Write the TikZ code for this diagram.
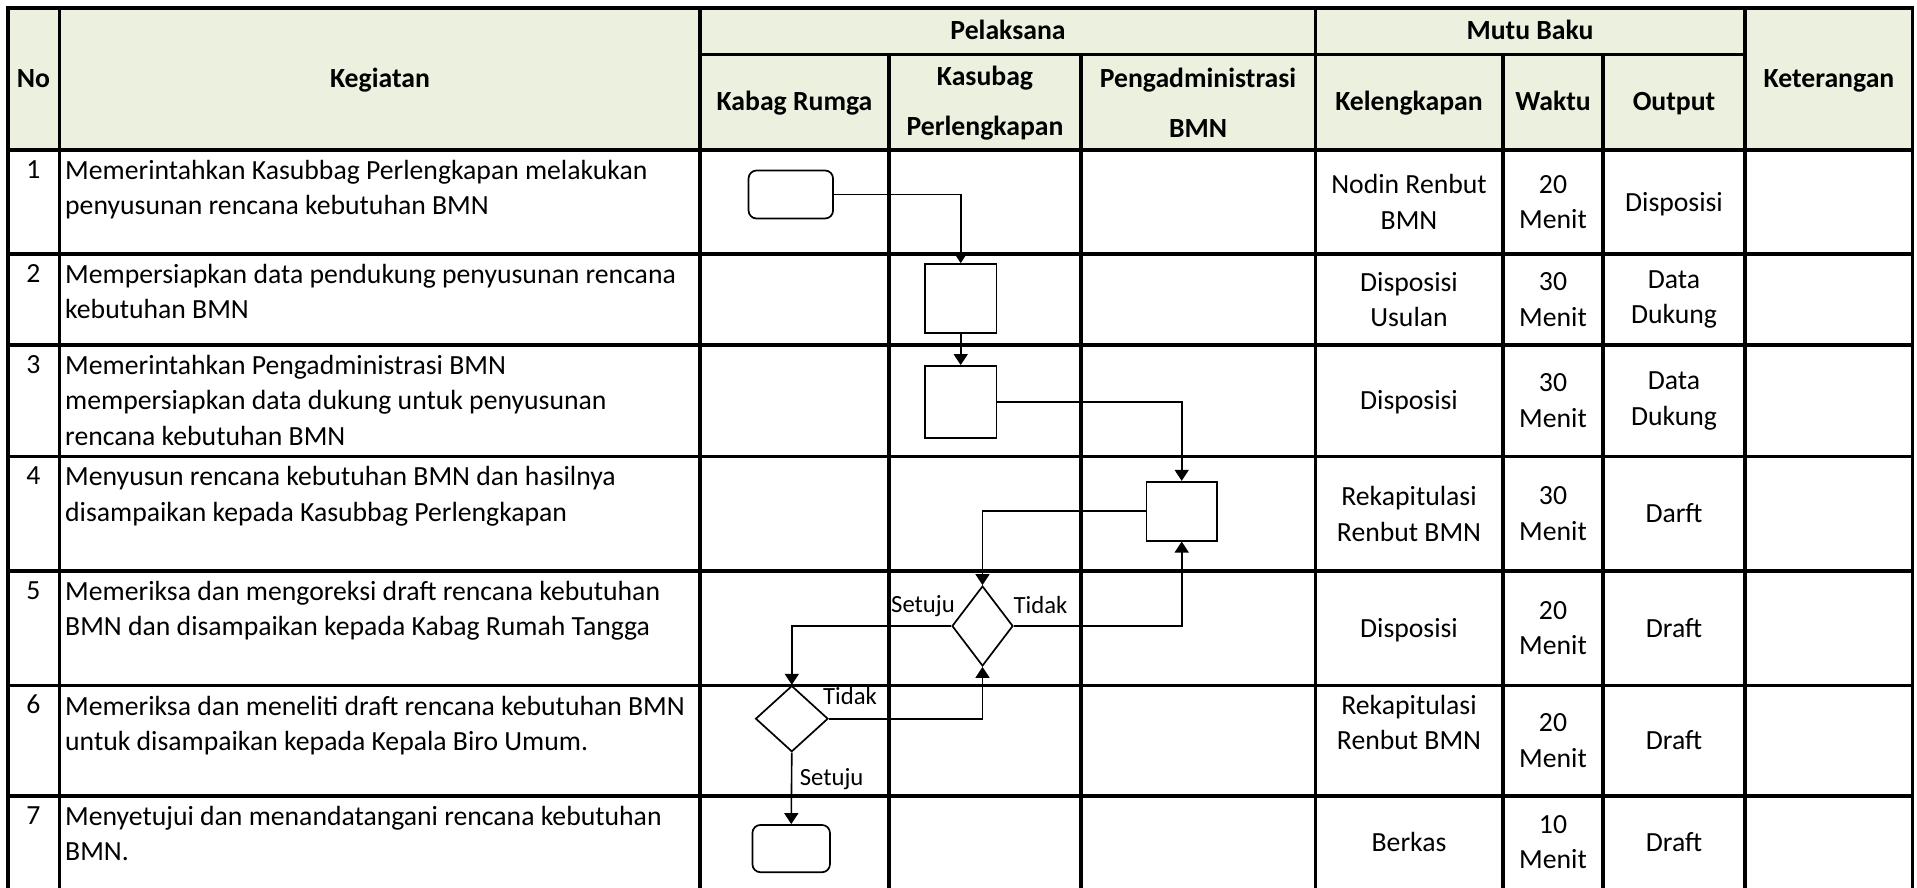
\documentclass[tikz,border=0pt]{standalone}
\usepackage{fontspec}
\setmainfont{Carlito}
\usepackage{tikz}
\usetikzlibrary{shapes,arrows.meta,positioning,calc}
\usepackage{xcolor}
\definecolor{hdrgreen}{RGB}{235,241,222}

\begin{document}
\begin{tikzpicture}[x=1pt, y=-1pt,
    grid/.style={line width=3.2pt, line cap=rect},
    txt/.style={inner sep=0pt, font=\fontsize{27.7}{35.6}\selectfont},
    hdr/.style={inner sep=0pt, text height=19pt, text depth=1pt, font=\fontsize{27.7}{35.6}\selectfont\bfseries},
    hdrtwo/.style={inner sep=0pt, align=center, font=\fontsize{27.7}{50}\selectfont\bfseries},
    keg/.style={txt, align=left, anchor=north west, execute at begin node=\strut},
    nomor/.style={txt, anchor=north, execute at begin node=\strut},
    mutu/.style={txt, align=center},
    mutusatu/.style={txt, text height=19pt, text depth=1pt},
    terminal/.style={rectangle, draw, rounded corners=8pt, line width=1.7pt, inner sep=0pt},
    process/.style={rectangle, draw, line width=1.7pt, inner sep=0pt},
    decision/.style={diamond, draw, line width=1.7pt, inner sep=0pt},
    flow/.style={-{Triangle[length=11pt,width=14pt]}, line width=1.6pt},
    lbl/.style={inner sep=0pt, text height=17pt, text depth=1pt, font=\fontsize{24.7}{30}\selectfont}
  ]
  \useasboundingbox (0,0) rectangle (1917,888);

  % Header background
  \fill[hdrgreen] (8,8) rectangle (1912,150);

  % Table grid: horizontal lines
  \draw[grid] (8,8) -- (1912,8);
  \draw[grid] (700,54.5) -- (1745,54.5);
  \draw[grid] (8,150) -- (1912,150);
  \draw[grid] (8,254) -- (1912,254) (8,345) -- (1912,345) (8,456.5) -- (1912,456.5);
  \draw[grid] (8,571) -- (1912,571) (8,685.7) -- (1912,685.7) (8,796) -- (1912,796);

  % Table grid: vertical lines
  \draw[grid] (8,8) -- (8,895) (59.3,8) -- (59.3,895) (700,8) -- (700,895);
  \draw[grid] (889,54.5) -- (889,895) (1081,54.5) -- (1081,895);
  \draw[grid] (1315.5,8) -- (1315.5,895);
  \draw[grid] (1503,54.5) -- (1503,895) (1603,54.5) -- (1603,895);
  \draw[grid] (1745,8) -- (1745,895) (1912.5,8) -- (1912.5,895);

  % Header texts
  \node[hdr] (h_no) at (33.5,78.5) {No};
  \node[hdr] (h_keg) at (380,78.5) {Kegiatan};
  \node[hdr] (h_pel) at (1008,31) {Pelaksana};
  \node[hdr] (h_mutu) at (1530,31) {Mutu Baku};
  \node[hdr] (h_ket) at (1829,78.5) {Keterangan};
  \node[hdr] (h_kabag) at (794.5,102) {Kabag Rumga};
  \node[hdrtwo] (h_kasubag) at (985,103) {Kasubag\\Perlengkapan};
  \node[hdrtwo] (h_admin) at (1198,103) {Pengadministrasi\\BMN};
  \node[hdr] (h_lengkap) at (1409,102) {Kelengkapan};
  \node[hdr] (h_waktu) at (1553,102) {Waktu};
  \node[hdr] (h_output) at (1674,102) {Output};

  % Numbers
  \node[nomor] (n1) at (33.5,152.9) {1};
  \node[nomor] (n2) at (33.5,256.9) {2};
  \node[nomor] (n3) at (33.5,347.9) {3};
  \node[nomor] (n4) at (33.5,459.4) {4};
  \node[nomor] (n5) at (33.5,573.9) {5};
  \node[nomor] (n6) at (33.5,688.6) {6};
  \node[nomor] (n7) at (33.5,798.9) {7};

  % Kegiatan
  \node[keg] (k1) at (65,159.9) {Memerintahkan Kasubbag Perlengkapan melakukan\\penyusunan rencana kebutuhan BMN};
  \node[keg] (k2) at (65,263.9) {Mempersiapkan data pendukung penyusunan rencana\\kebutuhan BMN};
  \node[keg] (k3) at (65,354.9) {Memerintahkan Pengadministrasi BMN\\mempersiapkan data dukung untuk penyusunan\\rencana kebutuhan BMN};
  \node[keg] (k4) at (65,466.4) {Menyusun rencana kebutuhan BMN dan hasilnya\\disampaikan kepada Kasubbag Perlengkapan};
  \node[keg] (k5) at (65,580.9) {Memeriksa dan mengoreksi draft rencana kebutuhan\\BMN dan disampaikan kepada Kabag Rumah Tangga};
  \node[keg] (k6) at (65,695.6) {Memeriksa dan meneliti draft rencana kebutuhan BMN\\untuk disampaikan kepada Kepala Biro Umum.};
  \node[keg] (k7) at (65,805.9) {Menyetujui dan menandatangani rencana kebutuhan\\BMN.};

  % Mutu Baku
  \node[mutu] (l1) at (1409,202) {Nodin Renbut\\BMN};
  \node[mutu] (w1) at (1553,202) {20\\Menit};
  \node[mutusatu] (o1) at (1674,202) {Disposisi};
  \node[mutu] (l2) at (1409,299.5) {Disposisi\\Usulan};
  \node[mutu] (w2) at (1553,299.5) {30\\Menit};
  \node[mutu] (o2) at (1674,299.5) {Data\\Dukung};
  \node[mutusatu] (l3) at (1409,400.7) {Disposisi};
  \node[mutu] (w3) at (1553,400.7) {30\\Menit};
  \node[mutu] (o3) at (1674,400.7) {Data\\Dukung};
  \node[mutu] (l4) at (1409,513.7) {Rekapitulasi\\Renbut BMN};
  \node[mutu] (w4) at (1553,513.7) {30\\Menit};
  \node[mutusatu] (o4) at (1674,513.7) {Darft};
  \node[mutusatu] (l5) at (1409,628.3) {Disposisi};
  \node[mutu] (w5) at (1553,628.3) {20\\Menit};
  \node[mutusatu] (o5) at (1674,628.3) {Draft};
  \node[mutu] (l6) at (1409,722.5) {Rekapitulasi\\Renbut BMN};
  \node[mutu] (w6) at (1553,740.8) {20\\Menit};
  \node[mutusatu] (o6) at (1674,740.8) {Draft};
  \node[mutusatu] (l7) at (1409,842) {Berkas};
  \node[mutu] (w7) at (1553,842) {10\\Menit};
  \node[mutusatu] (o7) at (1674,842) {Draft};

  % Flow shapes
  \node[terminal, minimum width=84.5pt, minimum height=48pt] (mulai) at (790.8,194.5) {};
  \node[process, minimum width=71.4pt, minimum height=69pt] (siapdata) at (960.7,298.5) {};
  \node[process, minimum width=71.4pt, minimum height=71.7pt] (perintah) at (960.7,401.8) {};
  \node[process, minimum width=70.6pt, minimum height=59pt] (susun) at (1181.7,511.2) {};
  \node[decision, minimum width=61pt, minimum height=80pt] (koreksi) at (982.5,626) {};
  \node[decision, minimum width=72.5pt, minimum height=66pt] (teliti) at (791.8,718.7) {};
  \node[terminal, minimum width=77.5pt, minimum height=47.3pt] (selesai) at (791.2,848.6) {};

  % Decision labels
  \node[lbl, anchor=east] (ya1) at (955,604) {Setuju};
  \node[lbl, anchor=west] (tidak1) at (1013.5,605) {Tidak};
  \node[lbl, anchor=west] (tidak2) at (823,696.7) {Tidak};
  \node[lbl, anchor=west] (ya2) at (799.6,777) {Setuju};

  % Connectors
  \draw[flow] (mulai.east) -| (siapdata.north);
  \draw[flow] (siapdata.south) -- (perintah.north);
  \draw[flow] (perintah.east) -| (susun.north);
  \draw[flow] (susun.west) -| (koreksi.north);
  \draw[flow] (koreksi.east) -| (susun.south);
  \draw[flow] (koreksi.west) -| (teliti.north);
  \draw[flow] (teliti.east) -| (koreksi.south);
  \draw[flow] (teliti.south) -- (selesai.north);

\end{tikzpicture}
\end{document}
